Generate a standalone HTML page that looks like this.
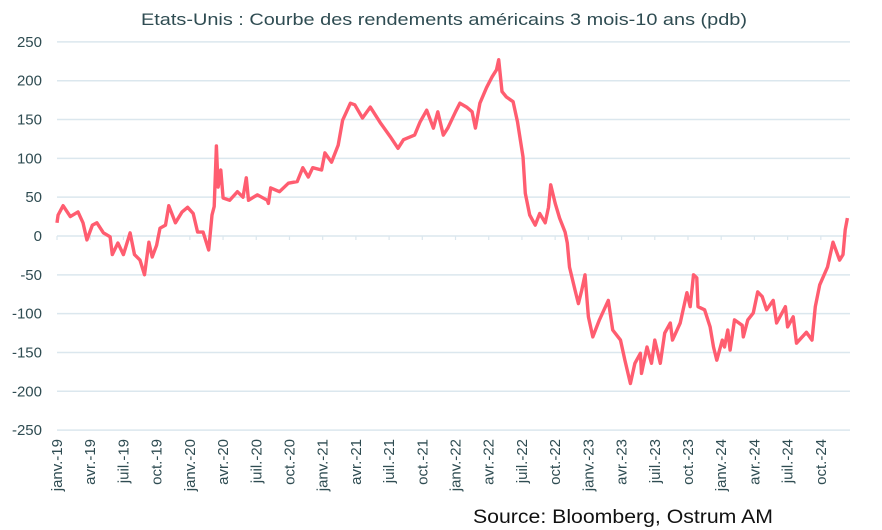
<!DOCTYPE html>
<html><head><meta charset="utf-8"><style>
body{margin:0;background:#fff;}
svg{display:block;font-family:"Liberation Sans",sans-serif;}
</style></head><body>
<svg id="chart" width="882" height="530">
<text x="444" y="25" text-anchor="middle" font-size="17" textLength="606" lengthAdjust="spacingAndGlyphs" fill="#2f4c52">Etats-Unis : Courbe des rendements  américains 3 mois-10 ans (pdb)</text>
<g id="grid"></g><g id="yticks"></g><g id="xticks"></g><g id="series"></g>
<text x="473" y="523" font-size="19" textLength="300" lengthAdjust="spacingAndGlyphs" fill="#111">Source:  Bloomberg, Ostrum AM</text>
</svg>
<script>
const yTicks=[250,200,150,100,50,0,-50,-100,-150,-200,-250];
const xLabels=["janv.-19","avr.-19","juil.-19","oct.-19","janv.-20","avr.-20","juil.-20","oct.-20","janv.-21","avr.-21","juil.-21","oct.-21","janv.-22","avr.-22","juil.-22","oct.-22","janv.-23","avr.-23","juil.-23","oct.-23","janv.-24","avr.-24","juil.-24","oct.-24"];
const months=[0,0.1,0.55,1.2,1.9,2.35,2.7,3.2,3.6,4.2,4.8,5,5.5,6,6.6,7,7.5,7.9,8.3,8.6,9,9.3,9.8,10.1,10.7,11.3,11.8,12.3,12.7,13.2,13.7,14,14.2,14.4,14.55,14.8,15,15.6,16.3,16.8,17.1,17.3,18.1,19,19.1,19.3,20.1,20.9,21.7,22.2,22.7,23.1,23.9,24.2,24.8,25.4,25.8,26.5,26.9,27.6,28.3,29.2,30.1,30.8,31.3,32.3,32.8,33.4,34,34.4,34.9,35.3,36,36.4,37,37.5,37.8,38.2,38.8,39.3,39.7,39.9,40.2,40.6,41.2,41.6,42.1,42.3,42.7,43.2,43.6,44.1,44.4,44.6,45,45.4,45.9,46.1,46.3,46.8,47.1,47.4,47.7,48,48.4,49,49.8,50.2,50.9,51.3,51.8,52.2,52.7,52.8,53.3,53.7,54,54.5,54.9,55.4,55.6,56.3,56.9,57.2,57.5,57.8,57.9,58.5,59,59.3,59.6,60.1,60.3,60.6,60.8,61.2,61.9,62,62.4,62.9,63.3,63.7,64.1,64.7,65,65.8,66,66.5,66.8,67.7,68.2,68.5,68.9,69.6,70.1,70.7,71,71.2,71.4];
const values=[17,27,39,25,31,17,-5,14,17,4,-1,-24,-9,-24,4,-24,-31,-50,-8,-27,-12,10,14,39,17,31,37,29,5,5,-18,27,38,116,63,85,49,46,57,50,75,46,53,46,42,62,57,68,70,88,76,88,85,107,95,117,149,171,169,152,166,146,128,113,124,130,147,162,139,160,130,139,160,171,166,160,139,171,191,205,214,227,186,179,173,147,102,55,27,14,29,17,37,66,42,23,5,-9,-40,-70,-87,-70,-50,-104,-130,-108,-83,-121,-134,-160,-190,-164,-151,-177,-143,-164,-134,-164,-125,-112,-134,-112,-73,-91,-50,-54,-91,-95,-117,-143,-160,-134,-143,-121,-147,-108,-115,-130,-108,-99,-72,-78,-95,-83,-112,-91,-117,-104,-138,-124,-134,-91,-63,-40,-8,-31,-24,8,23];
const NS="http://www.w3.org/2000/svg";
const x0=57,x1=850,monthW=11.07;
const yScale=v=>236-v*0.7765;
const xScale=m=>x0+m*monthW;
function mk(t,a,p){const e=document.createElementNS(NS,t);for(const k in a)e.setAttribute(k,a[k]);p.appendChild(e);return e;}
const grid=document.getElementById('grid'),yt=document.getElementById('yticks'),xt=document.getElementById('xticks'),se=document.getElementById('series');
yTicks.forEach(v=>{
 const l=mk('line',{x1:x0,x2:x1,y1:yScale(v),y2:yScale(v),stroke:'#dbe7ee','stroke-width':1.5},grid);
 
 
 const t=mk('text',{x:42,y:yScale(v)+5,'text-anchor':'end','font-size':15,fill:'#2f4c52'},yt);
 t.textContent=v;
 
 
});
xLabels.forEach((s,i)=>{
 const x=xScale(i*3);
 const tk=mk('line',{x1:x,x2:x,y1:yScale(0),y2:yScale(0)+4,stroke:'#dbe7ee','stroke-width':1.2},xt);
 
 
 const t=mk('text',{x:0,y:0,'text-anchor':'end','font-size':15,fill:'#2f4c52',transform:`translate(${x+5},439) rotate(-90)`},xt);
 t.textContent=s;
 
 
});
const d=months.map((m,i)=>(i?'L':'M')+xScale(m).toFixed(1)+','+yScale(values[i]).toFixed(1)).join('');
const p=mk('path',{d:d,fill:'none',stroke:'#ff5d70','stroke-width':3.4,'stroke-linejoin':'round'},se);


</script>
</body></html>
